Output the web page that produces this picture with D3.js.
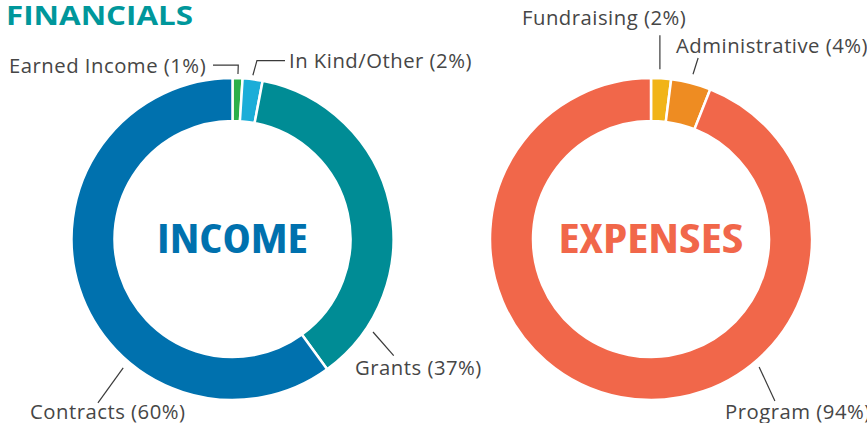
<!DOCTYPE html>
<html>
<head>
<meta charset="utf-8">
<script src="https://cdn.jsdelivr.net/npm/d3@7"></script>
<style>
  html, body { margin: 0; padding: 0; background: #fff; }
  svg { display: block; }
  text { font-family: "Open Sans", Lato, sans-serif; }
</style>
</head>
<body>
<svg id="chart" width="867" height="423" viewBox="0 0 867 423"></svg>
<script>
(function () {
  'use strict';

  // income
  const incomeNames = ['Earned Income', 'In Kind/Other', 'Grants', 'Contracts'];
  const incomeValues = [1, 2, 37, 60];
  const incomeColors = ['#2bb04a', '#1badd8', '#008c95', '#0071ae'];

  // expenses
  const expenseNames = ['Fundraising', 'Administrative', 'Program'];
  const expenseValues = [2, 4, 94];
  const expenseColors = ['#f1b417', '#ee8c22', '#f1674a'];

  const outerR = 161;
  const innerR = 118;

  // leader lines: polar points [angle deg clockwise from top, radius], optional tail x
  const incomeLabels = [
    { x: 9, y: 73, leader: [[1.9, 165], [1.9, 174]], tailX: 213 },
    { x: 289, y: 68, leader: [[7.1, 165], [7.8, 180]], tailX: 285 },
    { x: 355, y: 375, leader: [[123.5, 168.5], [125.9, 199]] },
    { x: 30, y: 419, leader: [[220.3, 169], [219.4, 212]] }
  ];
  const expenseLabels = [
    { x: 522, y: 25, leader: [[3.0, 170], [2.5, 204]] },
    { x: 676, y: 53, leader: [[14.3, 170], [14.6, 187]] },
    { x: 725, y: 419, leader: [[139.8, 167.5], [142.6, 204]] }
  ];

  const svg = d3.select('#chart');

  svg.append('text')
    .attr('x', 6)
    .attr('y', 25)
    .attr('fill', '#00979b')
    .attr('font-family', 'Lato, sans-serif')
    .attr('font-size', 27)
    .attr('font-weight', 700)
    .attr('textLength', 187)
    .attr('lengthAdjust', 'spacingAndGlyphs')
    .text('FINANCIALS');

  function polar(cx, cy, deg, r) {
    const a = deg * Math.PI / 180;
    return [cx + r * Math.sin(a), cy - r * Math.cos(a)];
  }

  function donut(cx, cy, names, values, colors, labels, title, titleColor, titleLen) {
    const g = svg.append('g').attr('transform', 'translate(' + cx + ',' + cy + ')');
    const pie = d3.pie().sort(null).value(function (d) { return d; });
    const arc = d3.arc().innerRadius(innerR).outerRadius(outerR);

    g.selectAll('path')
      .data(pie(values))
      .join('path')
      .attr('d', arc)
      .attr('fill', function (d, i) { return colors[i]; })
      .attr('stroke', '#fff')
      .attr('stroke-width', 2.5);

    g.append('text')
      .attr('x', 0)
      .attr('y', 14)
      .attr('text-anchor', 'middle')
      .attr('fill', titleColor)
      .attr('font-family', '"DejaVu Sans Condensed", "DejaVu Sans", sans-serif')
      .attr('font-stretch', 'condensed')
      .attr('font-weight', 700)
      .attr('font-size', 41)
      .attr('textLength', titleLen)
      .attr('lengthAdjust', 'spacingAndGlyphs')
      .text(title);

    labels.forEach(function (lab, i) {
      const pts = lab.leader.map(function (p) { return polar(cx, cy, p[0], p[1]); });
      if (lab.tailX != null) pts.push([lab.tailX, pts[pts.length - 1][1]]);
      svg.append('path')
        .attr('d', d3.line()(pts))
        .attr('fill', 'none')
        .attr('stroke', '#3a3a3a')
        .attr('stroke-width', 1.2);
      svg.append('text')
        .attr('x', lab.x)
        .attr('y', lab.y)
        .attr('fill', '#464646')
        .attr('font-size', 20.3)
        .attr('letter-spacing', 0.5)
        .text(names[i] + ' (' + values[i] + '%)');
    });
  }

  donut(232.5, 239, incomeNames, incomeValues, incomeColors, incomeLabels, 'INCOME', '#0071ae', 151);
  donut(651, 239, expenseNames, expenseValues, expenseColors, expenseLabels, 'EXPENSES', '#f1674a', 185);
})();
</script>
</body>
</html>
